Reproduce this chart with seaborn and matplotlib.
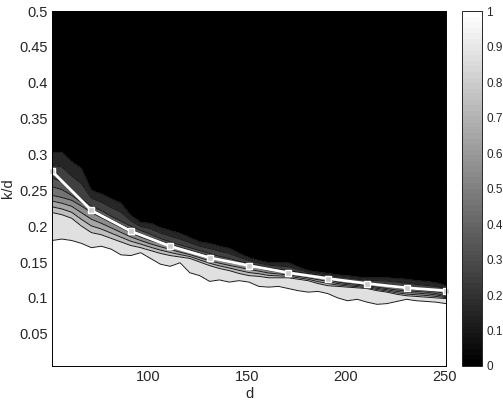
import numpy as np
import pandas as pd
import matplotlib
matplotlib.use("Agg")
import matplotlib.pyplot as plt
import seaborn as sns

# problem size columns of the phase diagram
d_grid = [51, 56, 61, 66, 71, 76, 81, 86, 91, 96, 101, 106, 111, 116, 121, 126, 131, 136, 141, 146, 151,
          156, 161, 166, 171, 176, 181, 186, 191, 196, 201, 206, 211, 216, 221, 226, 231, 236, 241, 246, 251]

# k/d where the success fraction crosses each level, one list per level
kd_level_10 = [.303, .303, .290, .280, .250, .245, .238, .232, .215, .205, .204, .198, .194, .190, .184, .178, .176,
               .172, .169, .162, .156, .152, .149, .149, .149, .143, .138, .136, .134, .132, .131, .129, .128, .128,
               .128, .127, .126, .124, .123, .121, .117]
kd_level_30 = [.267, .262, .250, .238, .228, .222, .214, .207, .200, .194, .189, .183, .178, .174, .170, .166, .162,
               .158, .155, .151, .148, .145, .142, .140, .138, .136, .134, .132, .130, .127, .125, .123, .121, .120,
               .119, .117, .115, .114, .112, .111, .109]
kd_level_50 = [.243, .240, .236, .228, .219, .212, .205, .198, .191, .185, .180, .176, .172, .167, .163, .159, .155,
               .152, .149, .147, .144, .141, .138, .136, .134, .132, .130, .128, .126, .122, .120, .119, .117, .115,
               .113, .111, .110, .109, .108, .106, .103]
kd_level_80 = [.219, .216, .211, .200, .191, .188, .183, .178, .173, .170, .166, .162, .159, .157, .155, .150, .145,
               .141, .138, .134, .131, .130, .128, .128, .128, .126, .124, .120, .117, .116, .115, .114, .113, .110,
               .108, .105, .103, .102, .101, .100, .099]
kd_level_90 = [.180, .182, .180, .176, .170, .172, .168, .160, .159, .163, .155, .147, .144, .149, .135, .131, .123,
               .125, .122, .124, .122, .116, .115, .116, .113, .110, .108, .109, .106, .100, .096, .098, .094, .091,
               .092, .095, .098, .096, .095, .094, .092]
kd_top = 0.5
kd_bottom = 0.005

# white curve with square markers
curve_d = [51, 71, 91, 111, 131, 151, 171, 191, 211, 231, 251]
curve_kd = [.2765, .222, .193, .172, .156, .145, .135, .127, .120, .114, .110]

levels = [0, .1, .2, .3, .4, .5, .6, .7, .8, .9, 1]
band_grays = [0, .15, .25, .35, .45, .55, .65, .75, .88, 1]
x_ticks = [100, 150, 200, 250]
y_ticks = [.05, .1, .15, .2, .25, .3, .35, .4, .45, .5]
y_labels = ["0.05", "0.1", "0.15", "0.2", "0.25", "0.3", "0.35", "0.4", "0.45", "0.5"]
cbar_ticks = [0, .1, .2, .3, .4, .5, .6, .7, .8, .9, 1]
cbar_labels = ["0", "0.1", "0.2", "0.3", "0.4", "0.5", "0.6", "0.7", "0.8", "0.9", "1"]

sns.set_style("ticks")
plt.rcParams["font.family"] = ["Liberation Sans", "DejaVu Sans"]
W, H = 503, 400
fig = plt.figure(figsize=(W / 100, H / 100), dpi=100)
ax = fig.add_axes([52 / W, 1 - 366 / H, 394 / W, 355 / H])
cax = fig.add_axes([462 / W, 1 - 366 / H, 20 / W, 355 / H])

n = len(d_grid)
Y = np.array([[kd_bottom] * n, kd_level_90, kd_level_80, kd_level_50, kd_level_30, kd_level_10, [kd_top] * n])
Z = np.array([1.0, .9, .8, .5, .3, .1, 0.0])[:, None] * np.ones((7, n))
X = np.tile(d_grid, (7, 1))

colors = [str(g) for g in band_grays]
ax.contourf(X, Y, Z, levels=levels, colors=colors)
ax.contour(X, Y, Z, levels=levels[1:-1], colors="#1a1a1a", linewidths=0.7)

curve = pd.DataFrame({"d": curve_d, "kd": curve_kd})
sns.lineplot(data=curve, x="d", y="kd", ax=ax, color="white", linewidth=2.0, marker="s",
             markersize=4.5, markerfacecolor="#cccccc", markeredgecolor="white",
             markeredgewidth=1, clip_on=False, errorbar=None)

ax.set_xlim(51, 251)
ax.set_ylim(kd_bottom, kd_top)
ax.set_xticks(x_ticks)
ax.set_yticks(y_ticks, y_labels)
ax.set_xlabel("d", fontsize=10.5, labelpad=2)
ax.set_ylabel("k/d", fontsize=10.5, labelpad=3)
ax.tick_params(direction="in", top=True, right=True, length=3.5, width=0.6, labelsize=10.5, pad=3, color="#444444")
for s in ax.spines.values():
    s.set_linewidth(0.7)
    s.set_color("black")

sm = plt.cm.ScalarMappable(norm=plt.Normalize(0, 1), cmap=plt.get_cmap("gray", 64))
cb = fig.colorbar(sm, cax=cax)
cb.set_ticks(cbar_ticks, labels=cbar_labels)
cax.tick_params(direction="in", left=True, right=True, length=3.5, width=0.6, labelsize=8.5, pad=3, color="#444444")
cb.outline.set_linewidth(0.7)

fig.savefig("out.png", dpi=100)
